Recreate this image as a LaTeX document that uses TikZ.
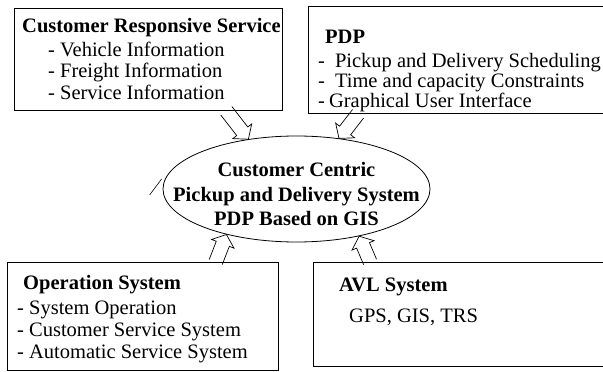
\documentclass[tikz,border=0pt]{standalone}
\usepackage{fontspec}
\setmainfont{Liberation Serif}
\usetikzlibrary{shapes.geometric,calc}

\tikzset{
  panel/.style={draw, line width=0.8pt, anchor=north west, inner sep=0pt},
  paneltext/.style={anchor=north west, align=left, inner sep=0pt,
    font=\fontsize{20.5}{21.5}\selectfont},
  hub/.style={draw, ellipse, line width=0.8pt, minimum width=267pt,
    minimum height=106pt, inner sep=0pt},
  hubtext/.style={align=center, font=\bfseries\fontsize{20.5}{24.5}\selectfont},
  feed/.style={line width=0.7pt, line join=miter}
}

% hollow block arrow from #1 to #2
\newcommand\feedarrow[2]{%
  \coordinate (fa-m) at ($(#2)!10pt!(#1)$);
  \draw[feed] ($(#1)!7pt!90:(#2)$) -- ($(fa-m)!7pt!-90:(#1)$)
    -- ($(fa-m)!12pt!-90:(#1)$) -- (#2) -- ($(fa-m)!12pt!90:(#1)$)
    -- ($(fa-m)!7pt!90:(#1)$) -- ($(#1)!7pt!-90:(#2)$);}

\begin{document}
\begin{tikzpicture}[x=1pt,y=-1pt]
\clip (0,0) rectangle (603,372);

% the four blocks
\node[panel, minimum width=268pt, minimum height=102pt] (crs) at (14,8) {};
\node[paneltext] (crstext) at (22,18)
  {\textbf{Customer Responsive Service}\\[2.5pt]
   \hspace*{26pt}- Vehicle Information\\
   \hspace*{26pt}- Freight Information\\
   \hspace*{26pt}- Service Information};

\node[panel, minimum width=320pt, minimum height=107pt] (pdp) at (308,6) {};
\node[paneltext] (pdptext) at (318,30)
  {\hspace*{7pt}\textbf{PDP}\\[2.5pt]
   -\hspace{10pt}Pickup and Delivery Scheduling\\[-1.5pt]
   -\hspace{10pt}Time and capacity Constraints\\[-1.5pt]
   -\hspace{4pt}Graphical User Interface};

\node[panel, minimum width=271pt, minimum height=108pt] (ops) at (7,262) {};
\node[paneltext] (opstext) at (17,275)
  {\hspace*{6pt}\textbf{Operation System}\\[3.5pt]
   - System Operation\\[0.5pt]
   - Customer Service System\\[0.5pt]
   - Automatic Service System};

\node[panel, minimum width=320pt, minimum height=104pt] (avl) at (313,262) {};
\node[paneltext] (avltext) at (339,278)
  {\textbf{AVL System}\\[9.5pt]
   \hspace*{10pt}GPS, GIS, TRS};

% centre
\node[hub] (pdps) at (296.5,189) {};
\node[hubtext] (pdpstext) at (296.5,194)
  {Customer Centric\\ Pickup and Delivery System\\ PDP Based on GIS};
\draw[line width=0.6pt] ($(pdps.west)+(-13,6)$) -- ++(12,-16);

% links into the centre
\coordinate (crsout) at ($(crs.south west)!0.79!(crs.south east)$);
\coordinate (pdpout) at ($(pdp.south west)!0.156!(pdp.south east)$);
\coordinate (opsout) at ($(ops.north west)!0.768!(ops.north east)$);
\coordinate (avlout) at ($(avl.north west)!0.178!(avl.north east)$);
\feedarrow{crsout}{pdps.134.5}
\feedarrow{pdpout}{pdps.50.5}
\feedarrow{opsout}{pdps.-147.5}
\feedarrow{avlout}{pdps.-37.4}
\end{tikzpicture}
\end{document}
